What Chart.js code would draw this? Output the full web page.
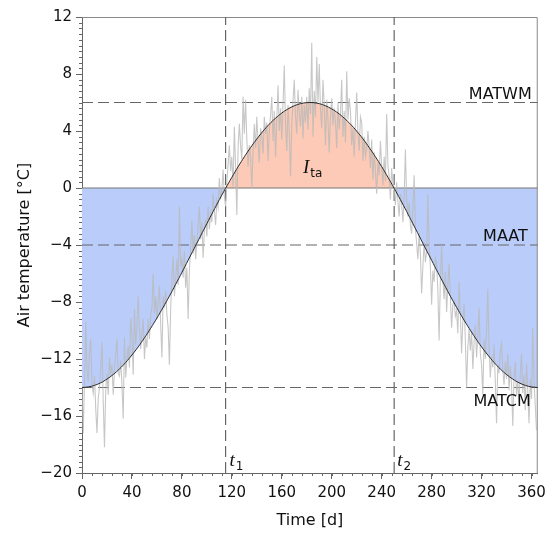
<!DOCTYPE html>
<html>
<head>
<meta charset="utf-8">
<script src="https://cdn.jsdelivr.net/npm/chart.js@4.4.1/dist/chart.umd.min.js"></script>
<style>
  html, body { margin: 0; padding: 0; background: #fff; }
  canvas { display: block; }
</style>
</head>
<body>
<canvas id="tempChart" width="551" height="533"></canvas>
<script>
// axis ranges and ticks
const xMin = 0, xMax = 365, xStep = 40, xMinorStep = 8;
const yMin = -20, yMax = 12, yStep = 4, yMinorStep = 0.4;

// reference levels
const MATWM = 6;
const MAAT = -4;
const MATCM = -14;
const t1 = 115;
const t2 = 250;

// fitted annual curve, every 5 days
const curveDays = [0, 5, 10, 15, 20, 25, 30, 35, 40, 45, 50, 55, 60, 65, 70, 75, 80, 85, 90, 95,
  100, 105, 110, 115, 120, 125, 130, 135, 140, 145, 150, 155, 160, 165, 170, 175, 180, 185, 190, 195,
  200, 205, 210, 215, 220, 225, 230, 235, 240, 245, 250, 255, 260, 265, 270, 275, 280, 285, 290, 295,
  300, 305, 310, 315, 320, 325, 330, 335, 340, 345, 350, 355, 360, 365];
const curveTemp = [-14.00, -13.96, -13.85, -13.67, -13.41, -13.09, -12.70, -12.24, -11.72, -11.15,
  -10.52, -9.84, -9.13, -8.37, -7.59, -6.76, -5.93, -5.07, -4.22, -3.36,
  -2.50, -1.66, -0.82, -0.02, 0.75, 1.49, 2.19, 2.84, 3.44, 3.99,
  4.48, 4.90, 5.26, 5.55, 5.77, 5.92, 5.99, 5.99, 5.92, 5.77,
  5.55, 5.26, 4.90, 4.48, 3.99, 3.45, 2.84, 2.19, 1.50, 0.76,
  -0.02, -0.82, -1.65, -2.50, -3.36, -4.22, -5.07, -5.93, -6.76, -7.59,
  -8.37, -9.13, -9.84, -10.52, -11.15, -11.72, -12.24, -12.70, -13.09, -13.41,
  -13.67, -13.85, -13.96, -14.00];

// daily air temperature (day 0..364), estimated
const dailyTemp = [
  -14.0, -17.2, -13.5, -9.4, -12.8, -13.6, -11.5, -10.6, -13.8, -14.4,
  -13.2, -15.5, -17.2, -14.8, -14.0, -12.6, -10.8, -14.9, -18.2, -14.2,
  -13.0, -14.5, -11.9, -13.0, -12.4, -14.5, -12.8, -11.6, -10.6, -13.0,
  -13.2, -12.1, -13.8, -16.2, -10.5, -13.3, -12.0, -11.1, -12.6, -9.1,
  -10.4, -13.1, -8.5, -11.0, -9.7, -7.6, -9.9, -11.3, -10.1, -9.2,
  -12.0, -10.5, -11.2, -9.2, -10.6, -9.0, -8.4, -6.0, -8.8, -7.6,
  -9.2, -8.0, -6.9, -9.5, -11.9, -7.6, -8.4, -7.2, -8.9, -9.8,
  -12.4, -8.5, -6.2, -4.8, -7.6, -6.4, -5.0, -6.8, -1.3, -5.5,
  -5.0, -6.3, -4.4, -7.0, -5.6, -9.2, -5.8, -4.2, -2.3, -4.6,
  -3.3, -5.0, -3.8, -2.6, -1.3, -3.6, -2.4, -4.9, -3.0, -2.2,
  -3.4, -1.3, -2.9, -1.8, -2.4, -0.4, -1.6, -2.6, -0.9, -1.4,
  0.7, -0.8, -0.1, 1.3, -0.6, -1.3, 0.4, 1.6, 3.0, 1.2,
  2.2, 0.1, 4.3, 1.5, -1.9, 2.8, 4.5, 3.0, 2.0, 6.4,
  3.8, 6.2, 3.4, 1.5, 3.0, 2.2, 0.0, 2.6, 4.5, 2.8,
  5.0, 3.2, 1.8, 4.2, 3.6, 2.4, 5.0, 3.8, 4.6, 1.9,
  4.0, 5.1, 6.4, 3.3, 5.4, 2.2, 4.8, 7.2, 4.0, 5.6,
  3.4, 6.0, 8.6, 4.5, 2.6, 5.8, 3.9, 0.8, 4.4, 6.1,
  7.6, 5.0, 3.8, 6.9, 5.2, 4.3, 6.4, 3.5, 5.8, 4.6,
  6.4, 4.1, 7.0, 5.2, 10.2, 3.6, 6.8, 5.0, 9.2, 6.0,
  8.7, 5.5, 4.2, 7.6, 5.8, 3.0, 6.2, 4.8, 2.5, 5.0,
  6.3, 4.4, 5.6, 4.6, 2.8, 6.0, 4.1, 5.2, 7.6, 3.6,
  5.4, 3.2, 8.2, 4.8, 6.3, 5.4, 3.0, 4.2, 2.2, 4.6,
  6.7, 3.8, 2.6, 5.0, 4.6, 1.9, 3.6, 2.2, 2.8, 4.0,
  2.9, 1.4, 3.4, 0.6, 2.5, 1.2, -0.4, 1.8, 0.9, 3.3,
  1.6, 0.2, 2.2, 0.5, 5.2, 1.6, 0.8, -0.8, 1.4, 0.3,
  0.0, -1.2, 0.4, -0.9, -2.0, -0.4, -1.1, -2.4, -0.6, 2.7,
  -0.8, -2.0, -1.0, -2.6, -3.2, -1.4, 0.9, -2.8, -3.9, -5.0,
  -3.2, -4.6, -7.4, -5.5, -3.8, -5.2, -4.5, -0.4, -4.0, -5.5,
  -8.2, -5.8, -6.6, -4.9, -5.3, -7.2, -10.7, -6.4, -4.0, -6.5,
  -7.8, -5.9, -8.7, -6.8, -5.3, -7.6, -9.8, -8.2, -7.9, -9.0,
  -8.6, -10.2, -6.6, -8.8, -11.6, -9.4, -8.1, -10.6, -14.0, -11.2,
  -9.9, -11.4, -10.0, -12.7, -10.8, -9.6, -11.9, -10.4, -8.4, -11.6,
  -12.4, -14.5, -10.6, -12.0, -9.8, -7.1, -11.2, -13.3, -11.8, -12.6,
  -11.0, -13.6, -16.5, -12.4, -13.0, -11.4, -10.9, -12.8, -13.8, -12.2,
  -13.4, -11.6, -14.2, -12.5, -13.8, -16.7, -13.2, -12.2, -14.6, -13.5,
  -15.0, -13.0, -11.6, -14.4, -13.1, -15.6, -12.3, -14.2, -16.5, -13.4,
  -14.8, -9.8, -13.6, -15.2, -17.0
];

const FONT = "'DejaVu Sans', Verdana, sans-serif";
const SERIF = "'Liberation Serif', 'DejaVu Serif', serif";
const axisColor = '#666';
const dashColor = '#666';

const curvePoints = curveDays.map((d, i) => ({ x: d, y: curveTemp[i] }));
const dailyPoints = dailyTemp.map((v, i) => ({ x: i, y: v }));

function hLine(v, dashed) {
  return {
    data: [{ x: xMin, y: v }, { x: xMax, y: v }],
    borderColor: dashed ? dashColor : '#777',
    borderWidth: dashed ? 1.2 : 1,
    borderDash: dashed ? [11, 5] : [],
    pointRadius: 0,
    fill: false,
    order: 3
  };
}
function vLine(t) {
  return {
    data: [{ x: t, y: yMin }, { x: t, y: yMax }],
    borderColor: dashColor,
    borderWidth: 1.2,
    borderDash: [11, 5],
    pointRadius: 0,
    fill: false,
    order: 3
  };
}

// frame on top and right, gray
const frame = {
  id: 'frame',
  beforeDatasetsDraw(chart) {
    const { ctx, chartArea: a } = chart;
    ctx.save();
    ctx.strokeStyle = '#8a8a8a';
    ctx.lineWidth = 1;
    ctx.beginPath();
    ctx.moveTo(a.left, a.top + 0.5);
    ctx.lineTo(a.right - 0.5, a.top + 0.5);
    ctx.lineTo(a.right - 0.5, a.bottom);
    ctx.stroke();
    ctx.restore();
  }
};

// short ticks between the labelled ones
const minorTicks = {
  id: 'minorTicks',
  afterDraw(chart) {
    const { ctx, chartArea: a, scales: { x, y } } = chart;
    ctx.save();
    ctx.strokeStyle = axisColor;
    ctx.lineWidth = 1;
    ctx.beginPath();
    for (let v = xMin; v <= xMax; v += xMinorStep) {
      const px = Math.round(x.getPixelForValue(v)) + 0.5;
      ctx.moveTo(px, a.bottom);
      ctx.lineTo(px, a.bottom + 3);
    }
    const n = Math.round((yMax - yMin) / yMinorStep);
    for (let i = 0; i <= n; i++) {
      const py = Math.round(y.getPixelForValue(yMin + i * yMinorStep)) + 0.5;
      ctx.moveTo(a.left - 3, py);
      ctx.lineTo(a.left, py);
    }
    ctx.stroke();
    ctx.restore();
  }
};

// text labels inside the plot
const labels = {
  id: 'labels',
  afterDatasetsDraw(chart) {
    const { ctx, chartArea: a, scales: { x, y } } = chart;
    ctx.save();
    ctx.fillStyle = '#111';
    ctx.font = '16px ' + FONT;
    ctx.textAlign = 'right';
    ctx.textBaseline = 'alphabetic';
    ctx.fillText('MATWM', a.right - 6, y.getPixelForValue(MATWM) - 3.5);
    ctx.fillText('MAAT', a.right - 10, y.getPixelForValue(MAAT) - 4);
    ctx.fillText('MATCM', a.right - 7, y.getPixelForValue(MATCM) + 18.5);

    ctx.textAlign = 'left';
    function sub(main, s, px, py) {
      ctx.font = 'italic 19px ' + SERIF;
      ctx.fillText(main, px, py);
      const w = ctx.measureText(main).width;
      ctx.font = '12px ' + FONT;
      ctx.fillText(s, px + w + 1, py + 4);
    }
    sub('t', '1', x.getPixelForValue(t1) + 4, a.bottom - 7);
    sub('t', '2', x.getPixelForValue(t2) + 3, a.bottom - 7);
    sub('I', 'ta', x.getPixelForValue(177), y.getPixelForValue(1.05));
    ctx.restore();
  }
};

const minus = v => String(v).replace('-', '\u2212');

new Chart(document.getElementById('tempChart'), {
  type: 'line',
  data: {
    datasets: [
      {
        data: curvePoints,
        borderColor: '#2a2a2a',
        borderWidth: 1,
        pointRadius: 0,
        tension: 0.4,
        fill: { target: { value: 0 }, above: '#FCCAB6', below: '#BACDFA' },
        order: 0
      },
      {
        data: dailyPoints,
        borderColor: 'rgba(185,185,185,0.8)',
        borderWidth: 1.1,
        pointRadius: 0,
        fill: false,
        order: 1
      },
      hLine(0, false),
      hLine(MATWM, true),
      hLine(MAAT, true),
      hLine(MATCM, true),
      vLine(t1),
      vLine(t2)
    ]
  },
  options: {
    responsive: false,
    animation: false,
    layout: { padding: { left: 0, right: 13, top: 17, bottom: 0 } },
    plugins: {
      legend: { display: false },
      tooltip: { enabled: false },
      filler: { drawTime: 'beforeDatasetsDraw' }
    },
    scales: {
      x: {
        type: 'linear',
        min: xMin,
        max: xMax,
        afterFit: s => { s.height = 60; },
        ticks: {
          stepSize: xStep,
          includeBounds: false,
          color: '#111',
          font: { family: FONT, size: 15 },
          padding: 5,
          maxRotation: 0
        },
        grid: { drawOnChartArea: false, tickLength: 6, color: axisColor },
        border: { color: axisColor },
        title: {
          display: true,
          text: 'Time [d]',
          color: '#111',
          font: { family: FONT, size: 16 },
          padding: { top: 4, bottom: 3 }
        }
      },
      y: {
        min: yMin,
        max: yMax,
        afterFit: s => { s.width = 82; },
        ticks: {
          stepSize: yStep,
          color: '#111',
          font: { family: FONT, size: 15 },
          padding: 4,
          callback: v => minus(v)
        },
        grid: { drawOnChartArea: false, tickLength: 6, color: axisColor },
        border: { color: axisColor },
        title: {
          display: true,
          text: 'Air temperature [°C]',
          color: '#111',
          font: { family: FONT, size: 16 },
          padding: { top: 15, bottom: 4 }
        }
      }
    }
  },
  plugins: [frame, minorTicks, labels]
});
</script>
</body>
</html>
